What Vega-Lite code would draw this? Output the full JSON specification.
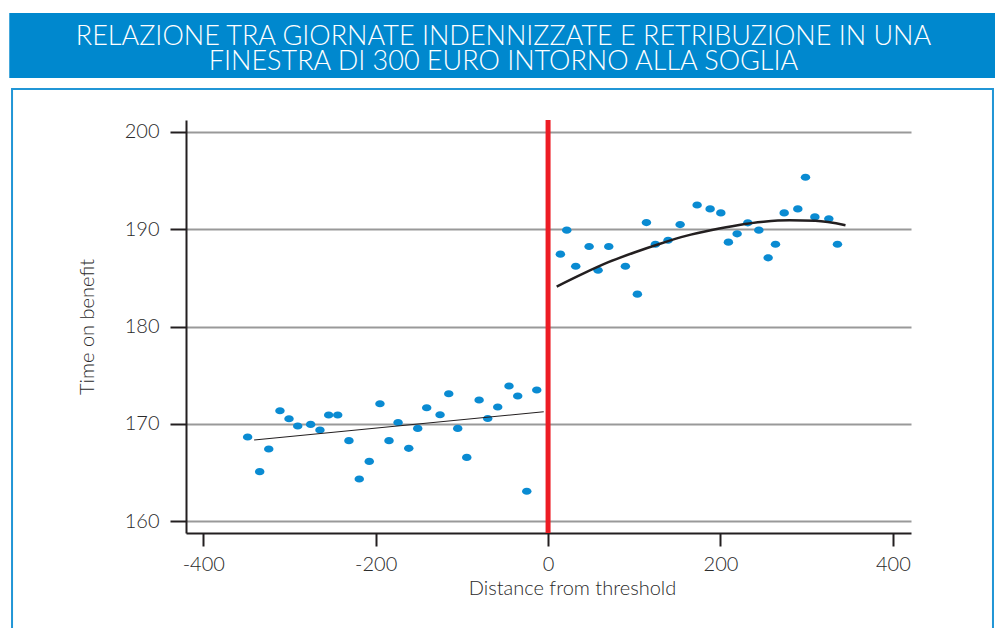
{
  "$schema": "https://vega.github.io/schema/vega-lite/v6.json",
  "width": 725,
  "height": 413,
  "autosize": {"type": "none"},
  "padding": {"left": 186, "top": 120, "right": 84, "bottom": 95},
  "background": "white",
  "config": {
    "view": {"stroke": null},
    "font": "Lato",
    "axisX": {
      "domainColor": "#231F20", "domainWidth": 2, "tickColor": "#231F20", "tickWidth": 2, "tickSize": 13,
      "labelFontSize": 20, "labelColor": "#2a2a2a", "labelPadding": 8, "labelFont": "Lato", "labelFontWeight": 300,
      "titleFontSize": 20, "titleFontWeight": 300, "titleColor": "#2a2a2a", "titlePadding": 4, "titleFont": "Lato",
      "titleX": 386,
      "grid": false
    },
    "axisY": {
      "domainColor": "#231F20", "domainWidth": 2, "tickColor": "#231F20", "tickWidth": 2, "tickSize": 16,
      "labelFontSize": 20, "labelColor": "#2a2a2a", "labelPadding": 11, "labelFont": "Lato", "labelFontWeight": 300,
      "titleFontSize": 20, "titleFontWeight": 300, "titleColor": "#2a2a2a", "titlePadding": 27, "titleFont": "Lato",
      "grid": true, "gridColor": "#999999", "gridWidth": 2
    }
  },
  "title": {
    "text": ["RELAZIONE TRA GIORNATE INDENNIZZATE E RETRIBUZIONE IN UNA", "FINESTRA DI 300 EURO INTORNO ALLA SOGLIA"],
    "color": "white", "fontSize": 27, "fontWeight": 300, "font": "Lato",
    "anchor": "middle", "dx": -45, "offset": -63, "lineHeight": 25.5
  },
  "datasets": {
    "points": [
      {"x": -348.5, "y": 168.66}, {"x": -334.5, "y": 165.10}, {"x": -324.0, "y": 167.43}, {"x": -311.0, "y": 171.35},
      {"x": -300.5, "y": 170.53}, {"x": -290.4, "y": 169.78}, {"x": -275.4, "y": 169.95}, {"x": -264.6, "y": 169.37},
      {"x": -254.5, "y": 170.91}, {"x": -244.0, "y": 170.91}, {"x": -231.0, "y": 168.28}, {"x": -219.0, "y": 164.35},
      {"x": -207.4, "y": 166.15}, {"x": -195.0, "y": 172.07}, {"x": -184.5, "y": 168.28}, {"x": -174.0, "y": 170.15},
      {"x": -161.6, "y": 167.49}, {"x": -151.2, "y": 169.54}, {"x": -140.8, "y": 171.66}, {"x": -125.3, "y": 170.94},
      {"x": -115.2, "y": 173.10}, {"x": -104.8, "y": 169.54}, {"x": -94.3, "y": 166.56}, {"x": -80.0, "y": 172.45},
      {"x": -70.0, "y": 170.56}, {"x": -58.4, "y": 171.73}, {"x": -45.3, "y": 173.89}, {"x": -35.2, "y": 172.86},
      {"x": -24.7, "y": 163.08}, {"x": -13.1, "y": 173.48},
      {"x": 14.3, "y": 187.43}, {"x": 21.7, "y": 189.89}, {"x": 32.1, "y": 186.19}, {"x": 47.6, "y": 188.21},
      {"x": 58.0, "y": 185.78}, {"x": 70.4, "y": 188.21}, {"x": 89.7, "y": 186.19}, {"x": 103.6, "y": 183.32},
      {"x": 114.1, "y": 190.67}, {"x": 124.5, "y": 188.45}, {"x": 139.2, "y": 188.86}, {"x": 153.2, "y": 190.46},
      {"x": 172.9, "y": 192.48}, {"x": 188.0, "y": 192.07}, {"x": 200.4, "y": 191.66}, {"x": 209.2, "y": 188.66},
      {"x": 219.3, "y": 189.51}, {"x": 231.7, "y": 190.64}, {"x": 244.5, "y": 189.89}, {"x": 255.3, "y": 187.05},
      {"x": 263.8, "y": 188.45}, {"x": 273.9, "y": 191.66}, {"x": 289.7, "y": 192.07}, {"x": 298.6, "y": 195.32},
      {"x": 309.5, "y": 191.25}, {"x": 325.7, "y": 191.05}, {"x": 335.7, "y": 188.45}
    ],
    "leftfit": [
      {"x": -341, "y": 168.35}, {"x": -5, "y": 171.25}
    ],
    "rightfit": [
      {"x": 10, "y": 184.1}, {"x": 40, "y": 185.4}, {"x": 70, "y": 186.6}, {"x": 100, "y": 187.6},
      {"x": 130, "y": 188.5}, {"x": 160, "y": 189.3}, {"x": 190, "y": 189.9}, {"x": 220, "y": 190.4},
      {"x": 250, "y": 190.75}, {"x": 280, "y": 190.9}, {"x": 310, "y": 190.85}, {"x": 345, "y": 190.4}
    ],
    "one": [{}]
  },
  "layer": [
    {
      "data": {"name": "one"},
      "mark": {"type": "rect", "color": "#0088CE", "clip": false},
      "encoding": {
        "x": {"datum": -625, "type": "quantitative", "scale": {"domain": [-420, 421], "nice": false, "zero": false}, "title": "Distance from threshold"},
        "x2": {"datum": 522},
        "y": {"datum": 212.18, "type": "quantitative", "scale": {"domain": [158.8, 201.2], "nice": false, "zero": false}, "title": "Time on benefit"},
        "y2": {"datum": 205.51}
      }
    },
    {
      "data": {"name": "one"},
      "mark": {"type": "rect", "fillOpacity": 0, "stroke": "#2196D6", "strokeWidth": 2, "clip": false},
      "encoding": {
        "x": {"datum": -621.8, "type": "quantitative", "scale": {"domain": [-420, 421], "nice": false, "zero": false}, "title": "Distance from threshold"},
        "x2": {"datum": 516.1},
        "y": {"datum": 204.38, "type": "quantitative", "scale": {"domain": [158.8, 201.2], "nice": false, "zero": false}, "title": "Time on benefit"},
        "y2": {"datum": 147.8}
      }
    },
    {
      "data": {"name": "points"},
      "mark": {"type": "point", "filled": true, "shape": "M-1,0A1,0.75,0,1,1,1,0A1,0.75,0,1,1,-1,0Z", "size": 90, "color": "#0A8BD2", "opacity": 1},
      "encoding": {
        "x": {"field": "x", "type": "quantitative", "scale": {"domain": [-420, 421], "nice": false, "zero": false}, "title": "Distance from threshold",
              "axis": {"values": [-400, -200, 0, 200, 400], "labelExpr": "replace(datum.label, '\u2212', '-')"}},
        "y": {"field": "y", "type": "quantitative", "scale": {"domain": [158.8, 201.2], "nice": false, "zero": false}, "title": "Time on benefit",
              "axis": {"values": [160, 170, 180, 190, 200]}}
      }
    },
    {
      "data": {"name": "leftfit"},
      "mark": {"type": "line", "color": "#231F20", "strokeWidth": 1.1},
      "encoding": {
        "x": {"field": "x", "type": "quantitative", "scale": {"domain": [-420, 421], "nice": false, "zero": false}, "title": "Distance from threshold"},
        "y": {"field": "y", "type": "quantitative", "scale": {"domain": [158.8, 201.2], "nice": false, "zero": false}, "title": "Time on benefit"}
      }
    },
    {
      "data": {"name": "rightfit"},
      "mark": {"type": "line", "color": "#231F20", "strokeWidth": 2.5, "interpolate": "monotone"},
      "encoding": {
        "x": {"field": "x", "type": "quantitative", "scale": {"domain": [-420, 421], "nice": false, "zero": false}, "title": "Distance from threshold"},
        "y": {"field": "y", "type": "quantitative", "scale": {"domain": [158.8, 201.2], "nice": false, "zero": false}, "title": "Time on benefit"}
      }
    },
    {
      "data": {"name": "one"},
      "mark": {"type": "rule", "color": "#ED1C24", "strokeWidth": 5},
      "encoding": {
        "x": {"datum": 0, "type": "quantitative", "scale": {"domain": [-420, 421], "nice": false, "zero": false}, "title": "Distance from threshold"}
      }
    }
  ]
}
